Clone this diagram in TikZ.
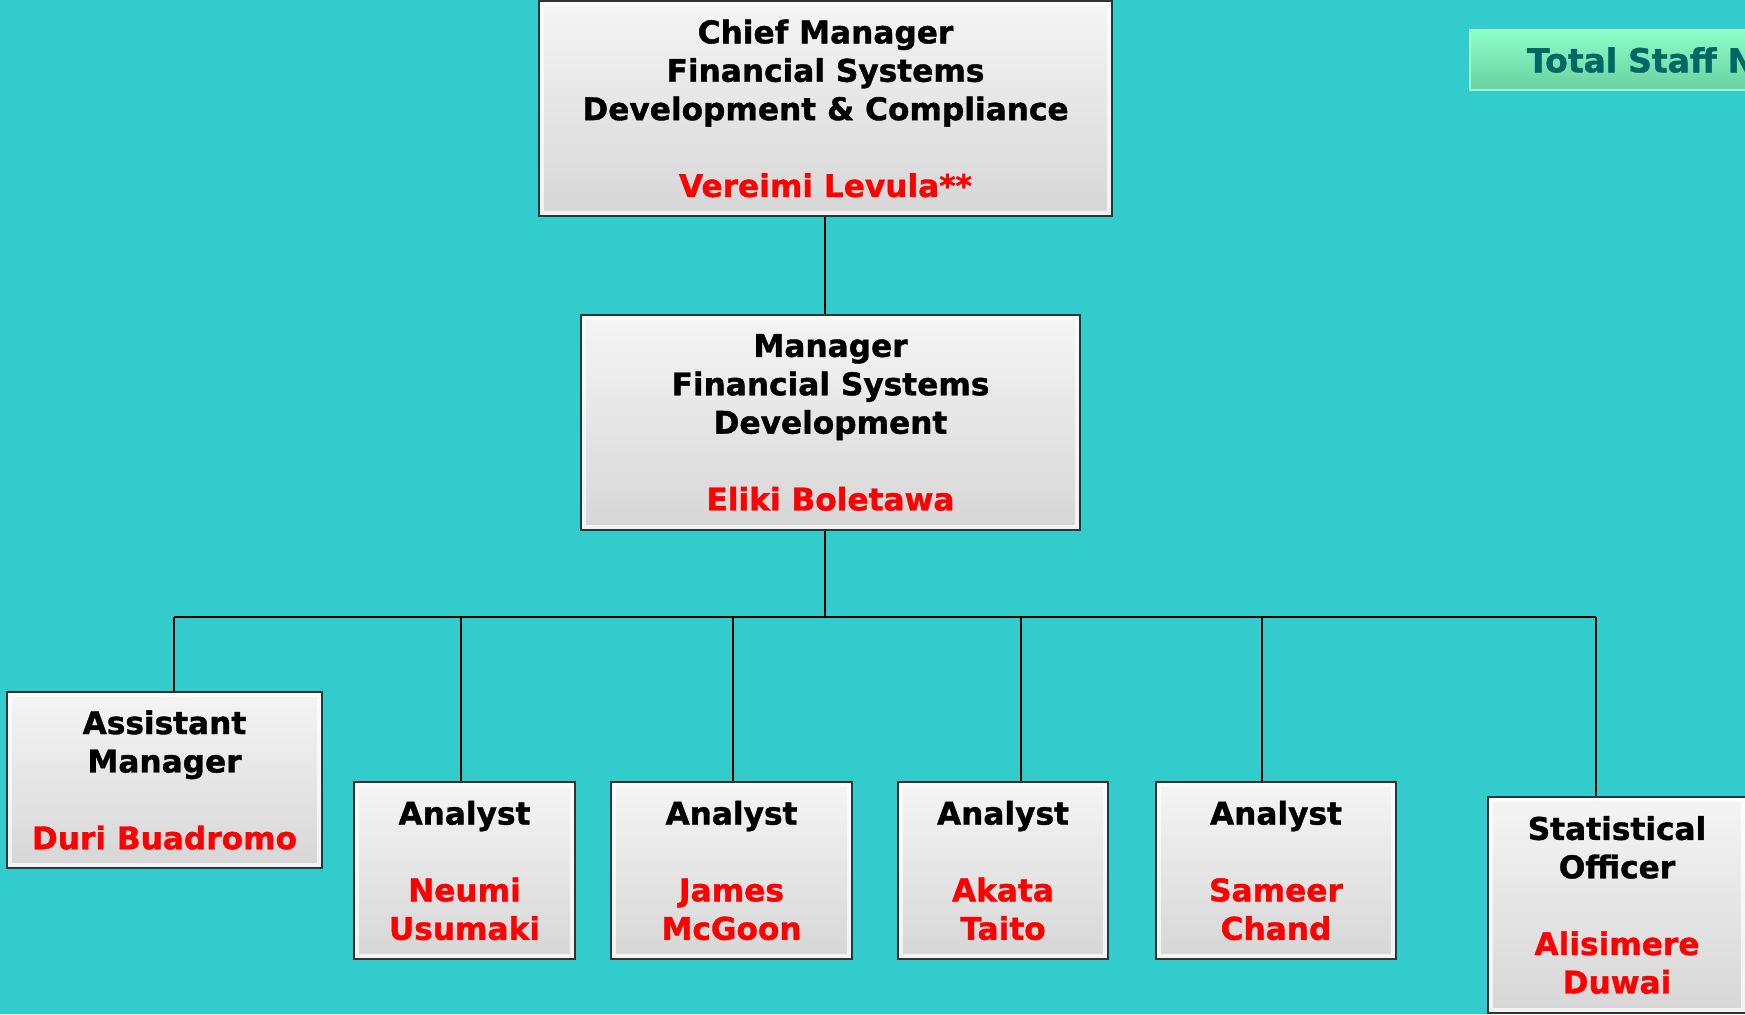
\documentclass[tikz,border=0pt]{standalone}
\usepackage{fontspec}
\setmainfont{DejaVu Sans}[BoldFeatures={FakeBold=1.2}]
\usetikzlibrary{positioning}
\definecolor{bgteal}{HTML}{33CCCC}
\definecolor{stafftop}{HTML}{8CFFC8}
\definecolor{staffbot}{HTML}{6ACFA0}
\definecolor{staffline}{HTML}{A0FFD0}
\definecolor{staffdark}{HTML}{006666}
\newcommand{\nm}[1]{\textcolor{red}{#1}}

\begin{document}
\begin{tikzpicture}[x=0.5pt, y=-0.5pt,
    box/.style={draw=black!80, line width=1.2pt, top color=gray!8, bottom color=gray!32,
        inner sep=0pt, align=center, font=\bfseries\fontsize{15.6}{19.2}\selectfont,
        path picture={\draw[white, line width=5pt, opacity=0.7]
            (path picture bounding box.south west) rectangle (path picture bounding box.north east);}},
    staffbox/.style={draw=staffline, line width=1pt, top color=stafftop, bottom color=staffbot,
        text=staffdark, font=\bfseries\fontsize{16.5}{19.8}\selectfont},
    link/.style={line width=1.2pt, black}]

    \useasboundingbox (0,0) rectangle (1745,1014);
    \fill[bgteal] (0,0) rectangle (1745,1014);

    \node (chief) [box, minimum width=286.5pt, minimum height=107.5pt] at (825.5,108.5)
        {Chief Manager\\Financial Systems\\Development \& Compliance\\[19.2pt]\nm{Vereimi Levula**}};
    \node (mgr) [box, minimum width=249.5pt, minimum height=107.5pt] at (830.5,422.5)
        {Manager\\Financial Systems\\Development\\[19.2pt]\nm{Eliki Boletawa}};

    \node (asst) [box, minimum width=157.5pt, minimum height=88pt] at (164.5,780)
        {Assistant\\Manager\\[19.2pt]\nm{Duri Buadromo}};
    \node (an1) [box, minimum width=110.5pt, minimum height=88.5pt] at (464.5,870.5)
        {Analyst\\[19.2pt]\nm{Neumi}\\\nm{Usumaki}};
    \node (an2) [box, minimum width=120.5pt, minimum height=88.5pt] at (731.5,870.5)
        {Analyst\\[19.2pt]\nm{James}\\\nm{McGoon}};
    \node (an3) [box, minimum width=105pt, minimum height=88.5pt] at (1003,870.5)
        {Analyst\\[19.2pt]\nm{Akata}\\\nm{Taito}};
    \node (an4) [box, minimum width=120pt, minimum height=88.5pt] at (1276,870.5)
        {Analyst\\[19.2pt]\nm{Sameer}\\\nm{Chand}};
    \node (stat) [box, minimum width=129pt, minimum height=108pt] at (1617,905)
        {Statistical\\Officer\\[19.2pt]\nm{Alisimere}\\\nm{Duwai}};

    \node (staff) [staffbox, anchor=west, minimum height=30pt, text width=150pt,
        inner xsep=28.5pt, align=left] at (1469,60) {Total Staff N};

    % reporting lines
    \coordinate (bus) at (825,617);
    \draw[link] (chief.south -| bus) -- (mgr.north -| bus);
    \draw[link] (mgr.south -| bus) -- (bus);
    \draw[link] (174,617) -- (1596,617);
    \foreach \n/\x in {asst/174, an1/461, an2/733, an3/1021, an4/1262, stat/1596}
        \draw[link] (\x,617) -- (\n.north -| \x,0);

\end{tikzpicture}
\end{document}
